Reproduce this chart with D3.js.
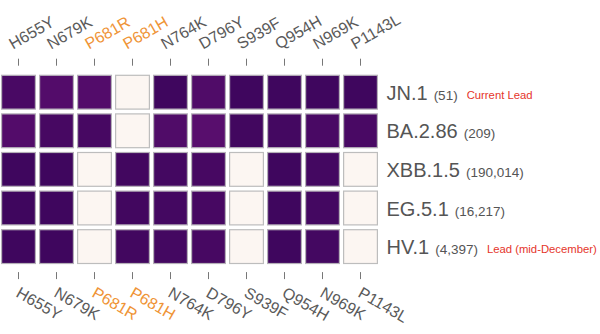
<!DOCTYPE html>
<html>
<head>
<meta charset="utf-8">
<script src="https://cdn.jsdelivr.net/npm/d3@7"></script>
<style>
  html, body { margin: 0; padding: 0; background: #fff; }
  svg { display: block; font-family: "Liberation Sans", Arial, Helvetica, sans-serif; }
</style>
</head>
<body>
<svg id="chart" width="600" height="334"></svg>
<script>
// Spike mutations tracked across lineages
const mutations = ["H655Y", "N679K", "P681R", "P681H", "N764K", "D796Y", "S939F", "Q954H", "N969K", "P1143L"];
const highlighted = ["P681R", "P681H"];

const lineages = ["JN.1", "BA.2.86", "XBB.1.5", "EG.5.1", "HV.1"];
const sequenceCounts = [51, 209, 190014, 16217, 4397];
const notes = ["Current Lead", "", "", "", "Lead (mid-December)"];

// Share of each lineage's sequences carrying the mutation (0 = absent)
const freqJN1    = [0.95, 0.91, 0.91, 0, 0.99, 0.92, 0.99, 0.99, 0.99, 0.99];
const freqBA286  = [0.91, 0.96, 0.96, 0, 0.92, 0.89, 0.98, 0.97, 0.95, 0.95];
const freqXBB15  = [0.99, 0.99, 0, 0.98, 0.97, 0.96, 0, 0.99, 0.97, 0];
const freqEG51   = [0.99, 0.99, 0, 0.98, 0.97, 0.96, 0, 0.99, 0.97, 0];
const freqHV1    = [0.99, 0.99, 0, 0.98, 0.97, 0.96, 0, 0.99, 0.97, 0];
const frequencies = [freqJN1, freqBA286, freqXBB15, freqEG51, freqHV1];

const cells = [];
lineages.forEach((lin, r) => {
  mutations.forEach((m, c) => cells.push({ lineage: lin, mutation: m, value: frequencies[r][c] }));
});

const svg = d3.select("#chart");

const pitchX = 38, gapX = 3;
const pitchY = 38.6, gapY = 3.6;
const x = d3.scaleBand()
  .domain(mutations)
  .range([-0.5, -0.5 + pitchX * mutations.length])
  .paddingInner(gapX / pitchX)
  .paddingOuter(gapX / pitchX / 2);
const y = d3.scaleBand()
  .domain(lineages)
  .range([72.9, 72.9 + pitchY * lineages.length])
  .paddingInner(gapY / pitchY)
  .paddingOuter(gapY / pitchY / 2);

const color = d3.scaleLinear()
  .domain([0.88, 1])
  .range(["#5a0f6e", "#3d055c"])
  .clamp(true);
const emptyColor = "#fcf6f2";

// Heatmap cells
svg.append("g")
  .selectAll("rect")
  .data(cells)
  .join("rect")
  .attr("x", d => x(d.mutation) + 0.6)
  .attr("y", d => y(d.lineage) + 0.6)
  .attr("width", x.bandwidth() - 1.2)
  .attr("height", y.bandwidth() - 1.2)
  .attr("fill", d => d.value > 0 ? color(d.value) : emptyColor)
  .attr("stroke", d => d.value > 0 ? "#b5b0b8" : "#bdbdbd")
  .attr("stroke-width", 1.2);

const gridTop = y.range()[0] + y.step() * y.paddingOuter();
const gridBottom = gridTop + y.step() * lineages.length - (y.step() - y.bandwidth());

const labelColor = m => highlighted.includes(m) ? "#ef9436" : "#5a5a5a";

// Top axis
const topAxis = svg.append("g").attr("transform", `translate(0,${gridTop - 9})`)
  .call(d3.axisTop(x).tickSize(7).tickSizeOuter(0).tickPadding(0));
topAxis.select(".domain").remove();
topAxis.selectAll(".tick line").attr("stroke", "#777").attr("stroke-width", 1);
topAxis.selectAll(".tick text")
  .attr("fill", labelColor)
  .attr("font-size", 16)
  .attr("text-anchor", "start")
  .attr("x", 0)
  .attr("y", 0)
  .attr("dy", 0)
  .attr("transform", "translate(-5.5,-16) rotate(-30)");

// Bottom axis
const bottomAxis = svg.append("g").attr("transform", `translate(0,${gridBottom + 8})`)
  .call(d3.axisBottom(x).tickSize(7).tickSizeOuter(0).tickPadding(0));
bottomAxis.select(".domain").remove();
bottomAxis.selectAll(".tick line").attr("stroke", "#777").attr("stroke-width", 1);
bottomAxis.selectAll(".tick text")
  .attr("fill", labelColor)
  .attr("font-size", 16)
  .attr("text-anchor", "start")
  .attr("x", 0)
  .attr("y", 0)
  .attr("dy", 0)
  .attr("transform", "translate(-3.5,24) rotate(30)");

// Lineage labels on the right
const fmt = d3.format(",");
const labelX = x.range()[1] + 7;
const labels = svg.append("g")
  .selectAll("text")
  .data(lineages)
  .join("text")
  .attr("x", labelX)
  .attr("y", d => y(d) + y.bandwidth() / 2 + 7.5);
labels.append("tspan")
  .attr("font-size", 20)
  .attr("fill", "#555")
  .text(d => d);
labels.append("tspan")
  .attr("font-size", 13.5)
  .attr("fill", "#555")
  .attr("dx", 6)
  .text((d, i) => `(${fmt(sequenceCounts[i])})`);
labels.append("tspan")
  .attr("font-size", 11.3)
  .attr("fill", "#e5352b")
  .attr("dx", 9)
  .attr("dy", -1)
  .text((d, i) => notes[i]);
</script>
</body>
</html>
